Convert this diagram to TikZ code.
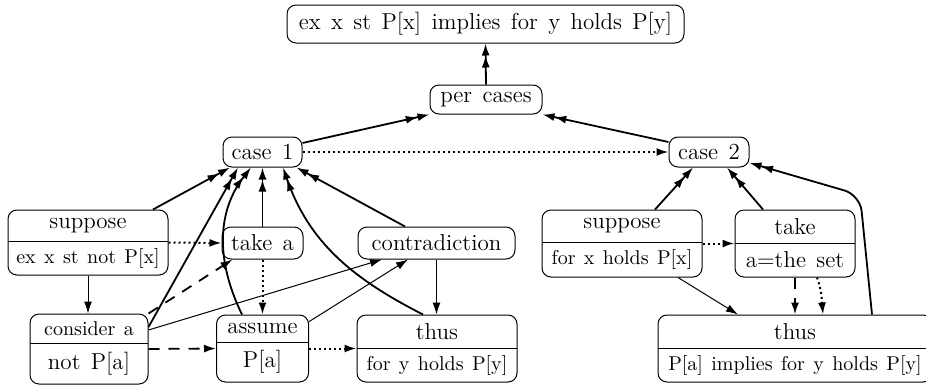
\documentclass[tikz,border=0pt]{standalone}
\usetikzlibrary{arrows.meta,calc}
\newcommand{\smtxt}{\fontsize{10}{12}\selectfont\spaceskip=4.2pt plus 1pt\relax}
\newcommand{\bigtxt}{\fontsize{11.5}{14}\selectfont\spaceskip=5.2pt plus 1pt\relax}
\tikzset{
  box/.style={draw, rounded corners=4.5pt, line width=0.5pt, inner sep=0pt},
  nbox/.style={box, font=\bigtxt},
  txt/.style={inner sep=0pt, font=\bigtxt},
  dtip/.style={-{Latex[length=6pt,width=4pt]Latex[length=6pt,width=4pt]}, line width=0.9pt},
  stip/.style={-{Latex[length=6pt,width=4pt]}},
  thinln/.style={stip, line width=0.5pt},
  dashln/.style={stip, line width=0.9pt, dash pattern=on 5.5pt off 4.5pt},
  dotln/.style={stip, line width=1pt, dash pattern=on 1pt off 1.5pt},
}
% #1 name, #2 cx, #3 top, #4 split, #5 bottom, #6 width, #7 top text, #8 bottom text
\newcommand{\splitnode}[8]{%
  \node[box, minimum width=#6*0.5pt, minimum height={(#5-#3)*0.5pt}] (#1) at (#2,{(#3+#5)/2}) {};
  \node[txt] (#1-a) at (#2,{(#3+#4)/2}) {#7};
  \node[txt] (#1-b) at (#2,{(#4+#5)/2}) {#8};
  \draw[line width=0.5pt] ({#2-#6/2},#4) -- ({#2+#6/2},#4);
}
\begin{document}
\begin{tikzpicture}[x=0.5pt,y=-0.5pt]
\useasboundingbox (0,0) rectangle (926,386);
\node[nbox, minimum width=198.5pt, minimum height=19pt] (top) at (485.5,24) {ex x st P[x] implies for y holds P[y]};
\node[nbox, minimum width=56pt, minimum height=14.5pt] (per) at (486,99.5) {per cases};
\node[nbox, minimum width=39.5pt, minimum height=15pt] (case1) at (262.5,152) {case 1};
\node[nbox, minimum width=40pt, minimum height=15pt] (case2) at (709,152) {case 2};
\node[nbox, minimum width=40.5pt, minimum height=16pt] (takea) at (262.5,243) {take a};
\node[nbox, minimum width=78.5pt, minimum height=16pt] (contra) at (436.5,243) {contradiction};

\splitnode{supL}{88}{210}{241}{275}{160}{suppose}{\smtxt ex x st not P[x]}
\splitnode{consA}{89}{314}{343}{384}{118}{\smtxt consider a}{not P[a]}
\splitnode{assume}{262.5}{315}{342}{382}{92}{assume}{P[a]}
\splitnode{thusL}{437}{315}{348}{382}{160}{thus}{\smtxt for y holds P[y]}
\splitnode{supR}{622}{210}{242}{277}{160}{suppose}{\smtxt for x holds P[x]}
\splitnode{takeR}{795}{210}{243}{277}{120}{take}{a=the set}
\splitnode{thusR}{795}{315}{348}{382}{274}{thus}{\smtxt P[a] implies for y holds P[y]}

\draw[dtip] (per.north) -- (top.south);
\draw[dtip] ([yshift=4.5pt]case1.east) -- (per.south west);
\draw[dtip] ([yshift=5pt]case2.west) -- (per.south east);
\draw[dotln] (case1.east) -- (case2.west);

\draw[dtip] ([xshift=32.5pt]supL.north) -- ([xshift=-16.25pt]case1.south);
\draw[dtip] ([yshift=11pt]consA.east) -- ([xshift=-12.25pt]case1.south);
\draw[dtip] ([xshift=-10.25pt]assume.north) to[out=116,in=-128] ([xshift=-5.75pt]case1.south);
\draw[dtip] (takea.north) -- (case1.south);
\draw[dtip] ([xshift=-7pt]thusL.north) to[out=153,in=-71] ([xshift=10.25pt]case1.south);
\draw[dtip] ([xshift=-15.75pt]contra.north) -- ([xshift=-3pt]case1.south east);

\draw[dotln] (supL.east) -- (takea.west);
\draw[thinln] (supL.south) -- (supL.south |- consA.north);
\draw[dashln] (consA.north east) -- ([xshift=5.5pt]takea.south west);
\draw[dashln] (consA.east) -- (assume.west);
\draw[thinln] ([yshift=9.5pt]consA.east) -- ([xshift=-27.25pt]contra.south);
\draw[dotln] (takea.south) -- (assume.north);
\draw[thinln] (assume.30) -- ([xshift=-14.25pt]contra.south);
\draw[dotln] (assume.east) -- (thusL.west);
\draw[thinln] (contra.south) -- (contra.south |- thusL.north);

\draw[dtip] ([xshift=16.5pt]supR.north) -- ([xshift=-8pt]case2.south);
\draw[dtip] ([xshift=-16pt]takeR.north) -- ([xshift=9pt]case2.south);
\coordinate (bendR) at (860,195);
\draw[dtip, rounded corners=8pt] ([xshift=38.5pt]thusR.north) -- (bendR) -- (case2.-15);
\draw[dotln] (supR.east) -- (takeR.west);
\draw[thinln] ([xshift=28pt]supR.south) -- ([xshift=-28.5pt]thusR.north);
\draw[dashln] (takeR.south) -- (thusR.north);
\draw[dotln] ([xshift=11pt]takeR.south) to[out=-70,in=95] ([xshift=14pt]thusR.north);
\end{tikzpicture}
\end{document}
